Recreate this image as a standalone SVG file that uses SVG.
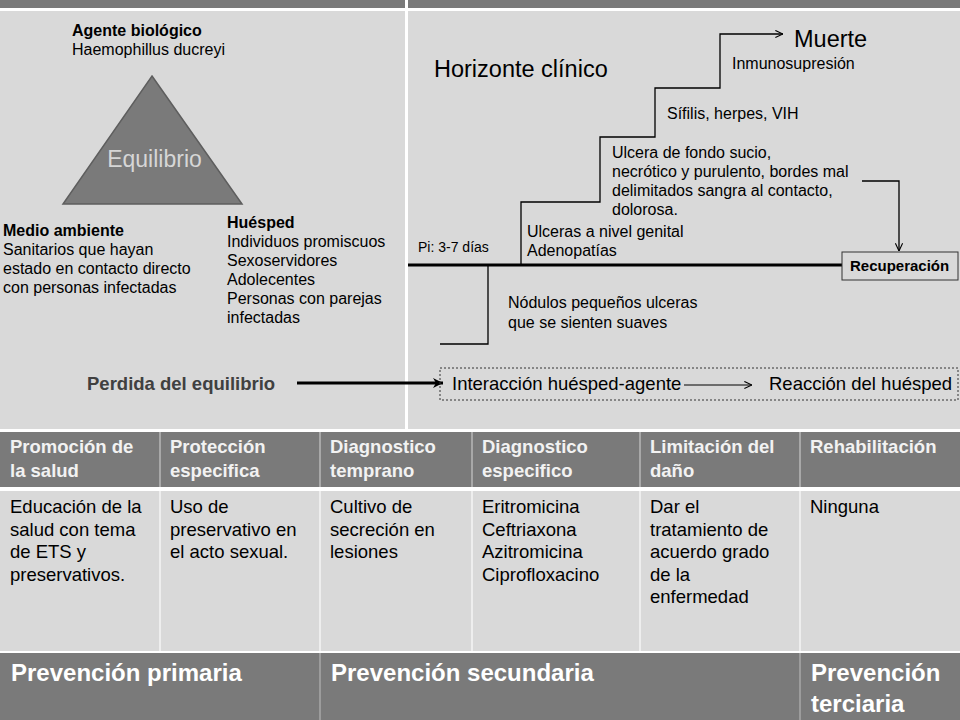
<svg xmlns="http://www.w3.org/2000/svg" width="960" height="720" viewBox="0 0 960 720">
<defs>
<style>
.t{font-family:"Liberation Sans",Arial,sans-serif;font-size:16px;fill:#000}
.b{font-weight:bold}
.hd{font-family:"Liberation Sans",Arial,sans-serif;font-size:18.5px;font-weight:bold;fill:#f2f2f2}
.bd{font-family:"Liberation Sans",Arial,sans-serif;font-size:18.5px;fill:#000}
.ft{font-family:"Liberation Sans",Arial,sans-serif;font-size:24px;font-weight:bold;fill:#fff}
.dark{fill:#7a7a7a}
.light{fill:#d9d9d9}
.ln{fill:none;stroke:#000;stroke-width:1.3}
</style>
<marker id="open" viewBox="0 0 10 10" refX="9.5" refY="5" markerWidth="9" markerHeight="9" markerUnits="userSpaceOnUse" orient="auto">
<path d="M1,1 L9.5,5 L1,9" fill="none" stroke="#000" stroke-width="1.2"/>
</marker>
<marker id="solid" viewBox="0 0 10 10" refX="10" refY="5" markerWidth="11" markerHeight="10" markerUnits="userSpaceOnUse" orient="auto">
<path d="M0,0 L10,5 L0,10 L3,5 z" fill="#000"/>
</marker>
</defs>

<!-- background -->
<rect x="0" y="0" width="960" height="720" fill="#fff"/>
<rect class="dark" x="0" y="0" width="960" height="8"/>
<rect class="light" x="0" y="11" width="960" height="418"/>
<rect x="405" y="0" width="3" height="430" fill="#fff"/>

<!-- table -->
<g id="table">
<rect class="dark" x="0" y="432" width="960" height="55"/>
<rect class="light" x="0" y="491" width="960" height="160"/>
<rect class="dark" x="0" y="653" width="960" height="67"/>
<g stroke="#a8a8a8" stroke-width="2">
<line x1="160" y1="432" x2="160" y2="487"/>
<line x1="320" y1="432" x2="320" y2="487"/>
<line x1="472" y1="432" x2="472" y2="487"/>
<line x1="640" y1="432" x2="640" y2="487"/>
<line x1="800" y1="432" x2="800" y2="487"/>
</g>
<g stroke="#f4f4f4" stroke-width="1.5">
<line x1="160" y1="491" x2="160" y2="651"/>
<line x1="320" y1="491" x2="320" y2="651"/>
<line x1="472" y1="491" x2="472" y2="651"/>
<line x1="640" y1="491" x2="640" y2="651"/>
<line x1="800" y1="491" x2="800" y2="651"/>
</g>
<g stroke="#a8a8a8" stroke-width="1.5">
<line x1="320" y1="653" x2="320" y2="720"/>
<line x1="800" y1="653" x2="800" y2="720"/>
</g>
<g id="h1"><text class="hd" x="10" y="453">Promoción de</text><text class="hd" x="10" y="477">la salud</text></g>
<g id="h2"><text class="hd" x="170" y="453">Protección</text><text class="hd" x="170" y="477">especifica</text></g>
<g id="h3"><text class="hd" x="330" y="453">Diagnostico</text><text class="hd" x="330" y="477">temprano</text></g>
<g id="h4"><text class="hd" x="482" y="453">Diagnostico</text><text class="hd" x="482" y="477">especifico</text></g>
<g id="h5"><text class="hd" x="650" y="453">Limitación del</text><text class="hd" x="650" y="477">daño</text></g>
<g id="h6"><text class="hd" x="810" y="453">Rehabilitación</text></g>
<g id="c1"><text class="bd" x="10" y="513">Educación de la</text><text class="bd" x="10" y="535.5">salud con tema</text><text class="bd" x="10" y="558">de ETS y</text><text class="bd" x="10" y="580.5">preservativos.</text></g>
<g id="c2"><text class="bd" x="170" y="513">Uso de</text><text class="bd" x="170" y="535.5">preservativo en</text><text class="bd" x="170" y="558">el acto sexual.</text></g>
<g id="c3"><text class="bd" x="330" y="513">Cultivo de</text><text class="bd" x="330" y="535.5">secreción en</text><text class="bd" x="330" y="558">lesiones</text></g>
<g id="c4"><text class="bd" x="482" y="513">Eritromicina</text><text class="bd" x="482" y="535.5">Ceftriaxona</text><text class="bd" x="482" y="558">Azitromicina</text><text class="bd" x="482" y="580.5">Ciprofloxacino</text></g>
<g id="c5"><text class="bd" x="650" y="513">Dar el</text><text class="bd" x="650" y="535.5">tratamiento de</text><text class="bd" x="650" y="558">acuerdo grado</text><text class="bd" x="650" y="580.5">de la</text><text class="bd" x="650" y="603">enfermedad</text></g>
<g id="c6"><text class="bd" x="810" y="513">Ninguna</text></g>
<g id="f1"><text class="ft" x="11" y="681">Prevención primaria</text></g>
<g id="f2"><text class="ft" x="331" y="681">Prevención secundaria</text></g>
<g id="f3"><text class="ft" x="811" y="681">Prevención</text><text class="ft" x="811" y="712">terciaria</text></g>
</g>

<!-- connectors -->
<g id="connectors">
<line x1="408" y1="265" x2="842" y2="265" stroke="#000" stroke-width="3"/>
<polyline class="ln" stroke="#333" points="521,265 521,202 600,202 600,137 655,137 655,88 720,88 720,34 783,34" marker-end="url(#open)"/>
<polyline class="ln" points="488,265 488,344 440,344"/>
<polyline class="ln" stroke-width="1.2" points="862,181 899,181 899,251" marker-end="url(#open)"/>
<line x1="297" y1="383" x2="443" y2="383" stroke="#000" stroke-width="3" marker-end="url(#solid)"/>
<line x1="684" y1="385" x2="752" y2="385" stroke="#000" stroke-width="1" marker-end="url(#open)"/>
</g>

<!-- epidemiological triad -->
<g id="triangulo">
<polygon points="152,76 242,204 63,204" fill="#7a7a7a" stroke="#5e5e5e" stroke-width="1.5"/>
<text x="154.5" y="167" text-anchor="middle" font-family="Liberation Sans, Arial, sans-serif" font-size="23" fill="#d6d6d6">Equilibrio</text>
</g>
<g id="agente">
<text class="t b" x="72" y="36">Agente biológico</text>
<text class="t" x="72" y="55">Haemophillus ducreyi</text>
</g>
<g id="medio">
<text class="t b" x="3" y="236">Medio ambiente</text>
<text class="t" x="3" y="255">Sanitarios que hayan</text>
<text class="t" x="3" y="274">estado en contacto directo</text>
<text class="t" x="3" y="293">con personas infectadas</text>
</g>
<g id="huesped">
<text class="t b" x="227" y="228">Huésped</text>
<text class="t" x="227" y="247">Individuos promiscuos</text>
<text class="t" x="227" y="266">Sexoservidores</text>
<text class="t" x="227" y="285">Adolecentes</text>
<text class="t" x="227" y="304">Personas con parejas</text>
<text class="t" x="227" y="323">infectadas</text>
</g>
<g id="perdida">
<text class="t b" x="87" y="390" font-size="18.5" style="font-size:18.5px;fill:#404040">Perdida del equilibrio</text>
</g>

<!-- natural history -->
<g id="horizonte"><text class="t" x="434" y="77" style="font-size:23.5px">Horizonte clínico</text></g>
<g id="muerte"><text class="t" x="794" y="47" style="font-size:23.5px">Muerte</text></g>
<g id="inmuno"><text class="t" x="732" y="69">Inmunosupresión</text></g>
<g id="sifilis"><text class="t" x="667" y="119">Sífilis, herpes, VIH</text></g>
<g id="ulcera">
<text class="t" x="612" y="158">Ulcera de fondo sucio,</text>
<text class="t" x="612" y="177">necrótico y purulento, bordes mal</text>
<text class="t" x="612" y="196">delimitados sangra al contacto,</text>
<text class="t" x="612" y="215">dolorosa.</text>
</g>
<g id="ulceras"><text class="t" x="527" y="237">Ulceras a nivel genital</text><text class="t" x="527" y="256">Adenopatías</text></g>
<g id="pi"><text class="t" x="418" y="252" style="font-size:14px">Pi: 3-7 días</text></g>
<g id="nodulos"><text class="t" x="508" y="308">Nódulos pequeños ulceras</text><text class="t" x="508" y="328">que se sienten suaves</text></g>
<g id="recuperacion">
<rect x="842" y="252" width="116" height="28" fill="none" stroke="#333" stroke-width="1"/>
<text class="t b" x="850" y="271" style="font-size:15px">Recuperación</text>
</g>
<g id="interaccion">
<rect x="440" y="368" width="518" height="32" fill="none" stroke="#333" stroke-width="1" stroke-dasharray="2,2"/>
<text class="t" x="452" y="390" style="font-size:18.5px">Interacción huésped-agente</text>
<text class="t" x="769" y="390" style="font-size:18.5px">Reacción del huésped</text>
</g>
</svg>
